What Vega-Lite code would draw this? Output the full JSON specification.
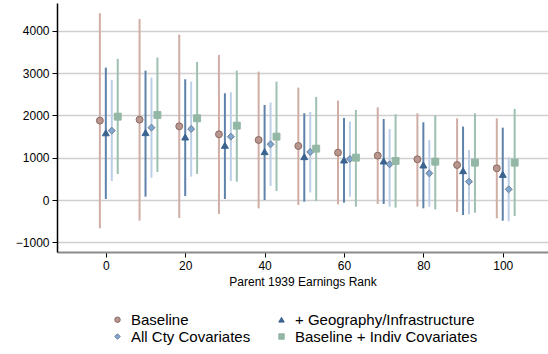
{
  "$schema": "https://vega.github.io/schema/vega-lite/v6.json",
  "width": 491,
  "height": 249,
  "autosize": {"type": "none"},
  "padding": {"left": 57, "top": 3, "right": 0, "bottom": 102},
  "background": "white",
  "config": {
    "view": {"stroke": null},
    "font": "Liberation Sans"
  },
  "data": {
    "values": [
      {"rank": -1.5, "series": "Baseline", "est": 1878, "lo": -671, "hi": 4418},
      {"rank": 0, "series": "+ Geography/Infrastructure", "est": 1590, "lo": 24, "hi": 3132},
      {"rank": 1.5, "series": "All Cty Covariates", "est": 1641, "lo": 450, "hi": 2840},
      {"rank": 3, "series": "Baseline + Indiv Covariates", "est": 1972, "lo": 615, "hi": 3337},

      {"rank": 8.5, "series": "Baseline", "est": 1901, "lo": -489, "hi": 4284},
      {"rank": 10, "series": "+ Geography/Infrastructure", "est": 1594, "lo": 79, "hi": 3061},
      {"rank": 11.5, "series": "All Cty Covariates", "est": 1712, "lo": 529, "hi": 2895},
      {"rank": 13, "series": "Baseline + Indiv Covariates", "est": 2012, "lo": 663, "hi": 3369},

      {"rank": 18.5, "series": "Baseline", "est": 1744, "lo": -426, "hi": 3913},
      {"rank": 20, "series": "+ Geography/Infrastructure", "est": 1491, "lo": 95, "hi": 2856},
      {"rank": 21.5, "series": "All Cty Covariates", "est": 1680, "lo": 552, "hi": 2800},
      {"rank": 23, "series": "Baseline + Indiv Covariates", "est": 1933, "lo": 615, "hi": 3266},

      {"rank": 28.5, "series": "Baseline", "est": 1554, "lo": -331, "hi": 3432},
      {"rank": 30, "series": "+ Geography/Infrastructure", "est": 1294, "lo": 24, "hi": 2525},
      {"rank": 31.5, "series": "All Cty Covariates", "est": 1499, "lo": 450, "hi": 2548},
      {"rank": 33, "series": "Baseline + Indiv Covariates", "est": 1759, "lo": 434, "hi": 3061},

      {"rank": 38.5, "series": "Baseline", "est": 1420, "lo": -197, "hi": 3037},
      {"rank": 40, "series": "+ Geography/Infrastructure", "est": 1144, "lo": 0, "hi": 2249},
      {"rank": 41.5, "series": "All Cty Covariates", "est": 1318, "lo": 331, "hi": 2304},
      {"rank": 43, "series": "Baseline + Indiv Covariates", "est": 1499, "lo": 213, "hi": 2800},

      {"rank": 48.5, "series": "Baseline", "est": 1278, "lo": -118, "hi": 2659},
      {"rank": 50, "series": "+ Geography/Infrastructure", "est": 1026, "lo": -39, "hi": 2051},
      {"rank": 51.5, "series": "All Cty Covariates", "est": 1136, "lo": 181, "hi": 2083},
      {"rank": 53, "series": "Baseline + Indiv Covariates", "est": 1215, "lo": -24, "hi": 2438},

      {"rank": 58.5, "series": "Baseline", "est": 1120, "lo": -103, "hi": 2351},
      {"rank": 60, "series": "+ Geography/Infrastructure", "est": 947, "lo": -63, "hi": 1941},
      {"rank": 61.5, "series": "All Cty Covariates", "est": 970, "lo": 79, "hi": 1854},
      {"rank": 63, "series": "Baseline + Indiv Covariates", "est": 1002, "lo": -158, "hi": 2130},

      {"rank": 68.5, "series": "Baseline", "est": 1049, "lo": -95, "hi": 2193},
      {"rank": 70, "series": "+ Geography/Infrastructure", "est": 923, "lo": -95, "hi": 1917},
      {"rank": 71.5, "series": "All Cty Covariates", "est": 844, "lo": -158, "hi": 1680},
      {"rank": 73, "series": "Baseline + Indiv Covariates", "est": 923, "lo": -181, "hi": 2028},

      {"rank": 78.5, "series": "Baseline", "est": 963, "lo": -158, "hi": 2051},
      {"rank": 80, "series": "+ Geography/Infrastructure", "est": 828, "lo": -197, "hi": 1838},
      {"rank": 81.5, "series": "All Cty Covariates", "est": 631, "lo": -158, "hi": 1420},
      {"rank": 83, "series": "Baseline + Indiv Covariates", "est": 907, "lo": -221, "hi": 2004},

      {"rank": 88.5, "series": "Baseline", "est": 828, "lo": -284, "hi": 1933},
      {"rank": 90, "series": "+ Geography/Infrastructure", "est": 694, "lo": -355, "hi": 1736},
      {"rank": 91.5, "series": "All Cty Covariates", "est": 434, "lo": -339, "hi": 1183},
      {"rank": 93, "series": "Baseline + Indiv Covariates", "est": 884, "lo": -300, "hi": 2051},

      {"rank": 98.5, "series": "Baseline", "est": 750, "lo": -434, "hi": 1933},
      {"rank": 100, "series": "+ Geography/Infrastructure", "est": 607, "lo": -489, "hi": 1712},
      {"rank": 101.5, "series": "All Cty Covariates", "est": 252, "lo": -505, "hi": 1010},
      {"rank": 103, "series": "Baseline + Indiv Covariates", "est": 884, "lo": -379, "hi": 2154}
    ]
  },
  "encoding": {
    "x": {
      "field": "rank",
      "type": "quantitative",
      "scale": {"domain": [-12.3, 111.4], "nice": false, "zero": false},
      "axis": {
        "values": [0, 20, 40, 60, 80, 100],
        "title": "Parent 1939 Earnings Rank",
        "titleFont": "Liberation Sans",
        "titleFontSize": 12,
        "titleFontWeight": "normal",
        "titleColor": "#000000",
        "titlePadding": 5,
        "labelFont": "Liberation Sans",
        "labelFontSize": 12,
        "labelColor": "#000000",
        "labelPadding": 3,
        "domainColor": "#8a8a8a",
        "domainWidth": 2,
        "tickColor": "#000000",
        "tickSize": 5,
        "grid": false
      }
    }
  },
  "layer": [
    {
      "mark": {"type": "rule", "strokeWidth": 2},
      "encoding": {
        "y": {
          "field": "lo",
          "type": "quantitative",
          "scale": {"domain": [-1230, 4660], "nice": false, "zero": false},
          "axis": {
            "values": [-1000, 0, 1000, 2000, 3000, 4000],
            "format": "d",
            "title": null,
            "labelFont": "Liberation Sans",
            "labelFontSize": 12,
            "labelColor": "#000000",
            "labelPadding": 3,
            "domainColor": "#000000",
            "domainWidth": 1.5,
            "tickColor": "#000000",
            "tickSize": 5,
            "grid": true,
            "gridColor": "#cfcfcf",
            "gridWidth": 1.5
          }
        },
        "y2": {"field": "hi"},
        "color": {
          "condition": [
            {"test": "datum.series === 'Baseline'", "value": "#d0aea6"},
            {"test": "datum.series === '+ Geography/Infrastructure'", "value": "#5f82aa"},
            {"test": "datum.series === 'All Cty Covariates'", "value": "#bccfe6"}
          ],
          "value": "#9dc0b0"
        }
      }
    },
    {
      "mark": {"type": "rule", "color": "#000000", "strokeWidth": 1.5},
      "encoding": {"y": {"datum": 0}}
    },
    {
      "mark": {"type": "point", "filled": true, "opacity": 1, "strokeWidth": 1},
      "encoding": {
        "y": {"field": "est", "type": "quantitative"},
        "fill": {
          "field": "series",
          "type": "nominal",
          "scale": {
            "domain": ["Baseline", "+ Geography/Infrastructure", "All Cty Covariates", "Baseline + Indiv Covariates"],
            "range": ["#b8968e", "#3b6390", "#7fa7d2", "#93b7a5"]
          },
          "legend": {
            "orient": "none",
            "legendX": 53,
            "legendY": 309,
            "direction": "horizontal",
            "columns": 2,
            "columnPadding": 23,
            "rowPadding": 1,
            "title": null,
            "labelFont": "Liberation Sans",
            "labelFontSize": 15,
            "labelColor": "#000000",
            "symbolSize": 30,
            "symbolStrokeWidth": 1,
            "labelOffset": 6,
            "labelLimit": 300
          }
        },
        "shape": {
          "field": "series",
          "type": "nominal",
          "scale": {
            "domain": ["Baseline", "+ Geography/Infrastructure", "All Cty Covariates", "Baseline + Indiv Covariates"],
            "range": ["circle", "triangle-up", "diamond", "square"]
          }
        },
        "stroke": {
          "field": "series",
          "type": "nominal",
          "scale": {
            "domain": ["Baseline", "+ Geography/Infrastructure", "All Cty Covariates", "Baseline + Indiv Covariates"],
            "range": ["#8a6a63", "#3b6390", "#6b7d92", "#93b7a5"]
          }
        },
        "size": {"value": 48}
      }
    }
  ]
}
